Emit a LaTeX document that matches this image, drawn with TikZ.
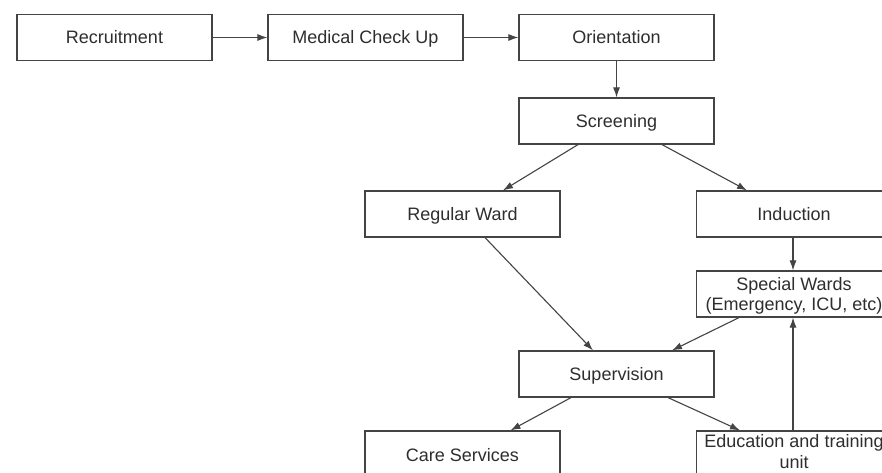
\documentclass[tikz,border=0pt]{standalone}
\usepackage{fontspec}
\setmainfont{Liberation Sans}
\usetikzlibrary{arrows.meta}
\definecolor{ink}{HTML}{2E2E2E}
\definecolor{edge}{HTML}{444444}
\tikzset{
  box/.style={draw=edge, line width=1.2pt, rectangle, minimum width=195pt, minimum height=46pt,
    inner sep=0pt, align=center, text=ink, font=\fontsize{18}{20.5}\selectfont},
  oneline/.style={text height=15pt, text depth=2pt},
  conn/.style={draw=edge, line width=1.1pt, -{Latex[length=10pt,width=7pt]}}
}
\begin{document}
\begin{tikzpicture}[x=1pt,y=-1pt]
\clip (0,0) rectangle (882,473);
\fill[white] (0,0) rectangle (882,473);
\node[box, oneline] (rec) at (114.5,37.5) {Recruitment};
\node[box, oneline] (med) at (365.5,37.5) {Medical Check Up};
\node[box, oneline] (ori) at (616.5,37.5) {Orientation};
\node[box, oneline] (scr) at (616.5,121) {Screening};
\node[box, oneline] (reg) at (462.5,214) {Regular Ward};
\node[box, oneline] (ind) at (794,214) {Induction};
\node[box] (spe) at (794,294) {\rule{0pt}{17pt}Special Wards\\(Emergency, ICU, etc)};
\node[box, oneline] (sup) at (616.5,374) {Supervision};
\node[box, oneline, minimum height=47pt] (car) at (462.5,454.5) {Care Services};
\node[box, minimum height=47pt] (edu) at (794,454.5) {Education and training\\unit\rule[-6pt]{0pt}{6pt}};
\draw[conn] (rec.east) -- (med.west);
\draw[conn] (med.east) -- (ori.west);
\draw[conn] (ori.south) -- (scr.north);
\draw[conn] ([xshift=-38.5pt]scr.south) -- ([xshift=40.5pt]reg.north);
\draw[conn] ([xshift=45.5pt]scr.south) -- ([xshift=-47pt]ind.north);
\draw[conn] ([xshift=-1pt]ind.south) -- ([xshift=-1pt]spe.north);
\draw[conn] ([xshift=22.5pt]reg.south) -- ([xshift=-23.5pt]sup.north);
\draw[conn] ([xshift=-55pt]spe.south) -- ([xshift=55.5pt]sup.north);
\draw[conn] ([xshift=-45.5pt]sup.south) -- ([xshift=48pt]car.north);
\draw[conn] ([xshift=51.5pt]sup.south) -- ([xshift=-54pt]edu.north);
\draw[conn] ([xshift=-1pt]edu.north) -- ([xshift=-1pt]spe.south);
\end{tikzpicture}
\end{document}
